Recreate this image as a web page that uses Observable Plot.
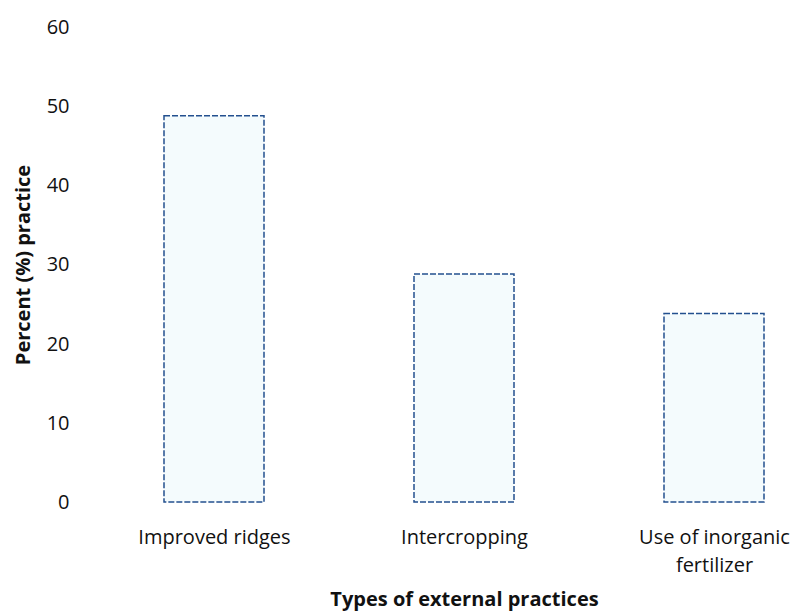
<!DOCTYPE html>
<html>
<head>
<meta charset="utf-8">
<script src="https://cdn.jsdelivr.net/npm/d3@7"></script>
<script src="https://cdn.jsdelivr.net/npm/@observablehq/plot@0.6"></script>
<style>
  html, body { margin: 0; padding: 0; background: #fff; }
  #chart svg { display: block; }
</style>
</head>
<body>
<div id="chart"></div>
<script>
const categories = ["Improved ridges", "Intercropping", "Use of inorganic fertilizer"];
const values = [48.8, 28.8, 23.8];
const yTicks = [0, 10, 20, 30, 40, 50, 60];
const tickLabels = {
  "Improved ridges": "Improved ridges",
  "Intercropping": "Intercropping",
  "Use of inorganic fertilizer": "Use of inorganic\nfertilizer"
};

const data = categories.map((c, i) => ({category: c, value: values[i]}));

const chart = Plot.plot({
  width: 800,
  height: 614,
  marginLeft: 164,
  marginRight: 36,
  marginTop: 27,
  marginBottom: 112,
  style: {fontFamily: "'Open Sans', sans-serif", background: "#fff", color: "#111"},
  x: {domain: categories, paddingInner: 0.6, paddingOuter: 0},
  y: {domain: [0, 60]},
  marks: [
    Plot.barY(data, {
      x: "category", y: "value",
      fill: "#f4fbfd",
      stroke: "#23508f",
      strokeWidth: 1.5,
      strokeDasharray: "6,2"
    }),
    Plot.axisY({
      ticks: yTicks,
      tickSize: 0,
      tickPadding: 95,
      fontSize: 20,
      label: "Percent (%) practice",
      labelAnchor: "center",
      labelArrow: "none",
      labelOffset: 149
    }),
    Plot.axisX({
      tickSize: 0,
      tickPadding: 22,
      fontSize: 20,
      lineHeight: 1.4,
      tickFormat: d => tickLabels[d],
      label: "Types of external practices",
      labelAnchor: "center",
      labelArrow: "none",
      labelOffset: 103
    })
  ]
});

// bold axis titles
d3.select(chart).selectAll("g[aria-label='y-axis label'] text, g[aria-label='x-axis label'] text")
  .style("font-weight", "bold").style("font-size", "20px");

document.getElementById("chart").appendChild(chart);
</script>
</body>
</html>
